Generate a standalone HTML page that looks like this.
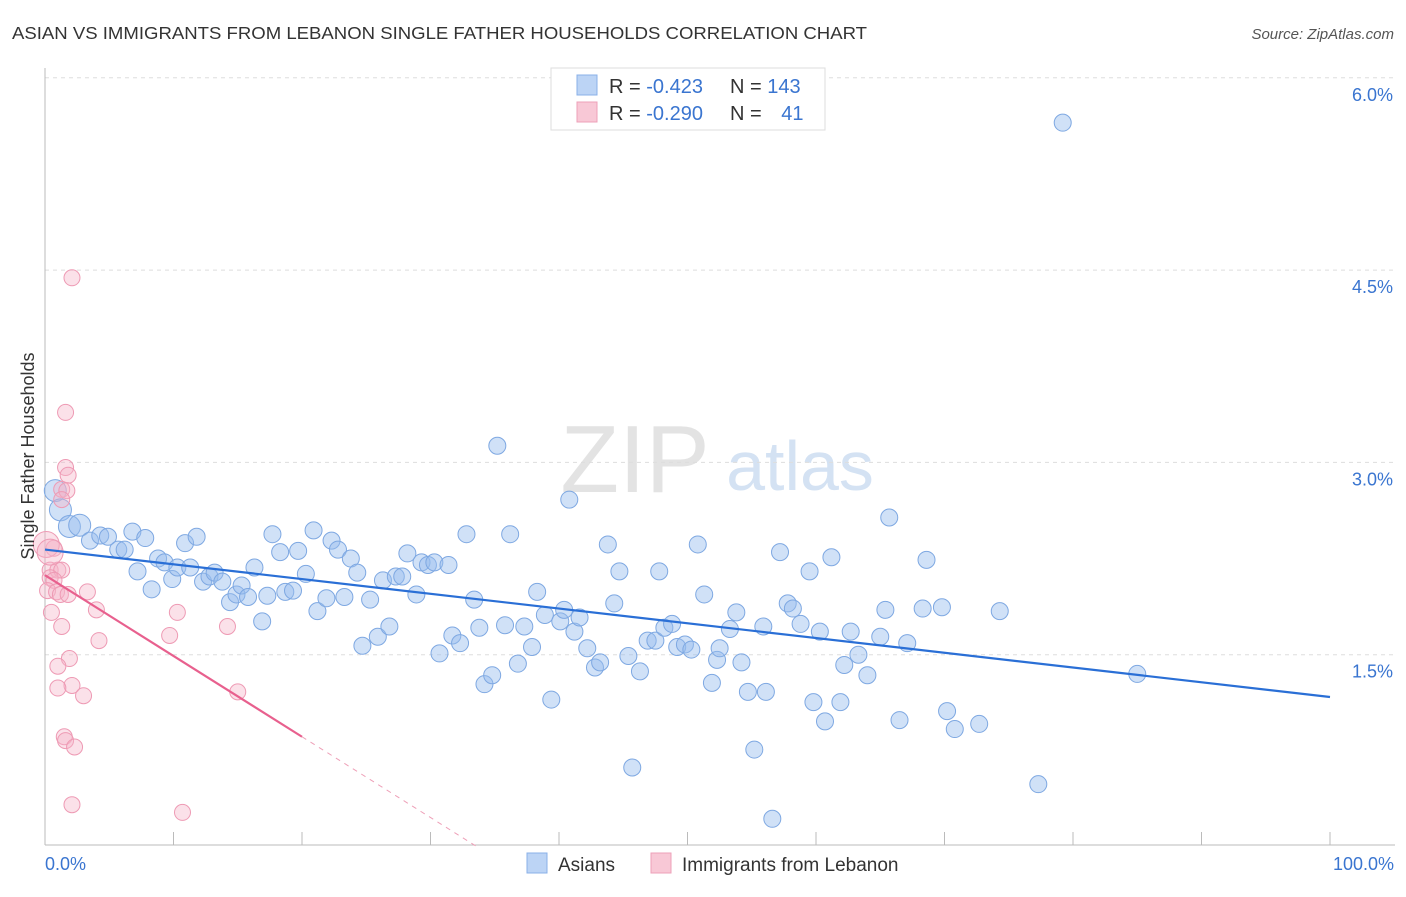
<!DOCTYPE html>
<html><head><meta charset="utf-8"><style>
body{margin:0;background:#fff;font-family:"Liberation Sans",sans-serif}
svg text{font-family:"Liberation Sans",sans-serif}
</style></head><body>
<svg id="chart" width="1406" height="892" xmlns="http://www.w3.org/2000/svg">
<text x="12" y="39" font-size="17.5" fill="#333" textLength="855" lengthAdjust="spacingAndGlyphs">ASIAN VS IMMIGRANTS FROM LEBANON SINGLE FATHER HOUSEHOLDS CORRELATION CHART</text>
<text x="1394" y="39" font-size="15" fill="#555" font-style="italic" text-anchor="end">Source: ZipAtlas.com</text>
<text x="635" y="492" font-size="96" fill="#e3e3e3" font-family="Liberation Serif" text-anchor="middle">ZIP</text>
<text x="800" y="490" font-size="70" fill="#d4e2f3" text-anchor="middle">atlas</text>
<g id="grid"></g><g id="axes"></g><g id="marks"></g>
<text transform="translate(34,456) rotate(-90)" font-size="18" fill="#333" text-anchor="middle">Single Father Households</text>
<text x="45" y="870" font-size="18" fill="#3a75d0">0.0%</text>
<text x="1394" y="870" font-size="18" fill="#3a75d0" text-anchor="end">100.0%</text>
<g>
<rect x="551" y="68" width="274" height="62" fill="#fff" stroke="#ddd"/>
<rect x="577" y="75" width="20" height="20" fill="#bcd4f5" stroke="#8ab0e8"/>
<rect x="577" y="102" width="20" height="20" fill="#f8c8d6" stroke="#eea0b8"/>
<text x="609" y="93" font-size="20" fill="#333">R = <tspan fill="#3a75d0">-0.423</tspan></text>
<text x="730" y="93" font-size="20" fill="#333">N = <tspan fill="#3a75d0">143</tspan></text>
<text x="609" y="120" font-size="20" fill="#333">R = <tspan fill="#3a75d0">-0.290</tspan></text>
<text x="730" y="120" font-size="20" fill="#333">N = <tspan fill="#3a75d0" dx="14">41</tspan></text>
</g>
<g>
<rect x="527" y="853" width="20" height="20" fill="#bcd4f5" stroke="#8ab0e8"/>
<text x="558" y="871" font-size="19" fill="#333">Asians</text>
<rect x="651" y="853" width="20" height="20" fill="#f8c8d6" stroke="#eea0b8"/>
<text x="682" y="871" font-size="19" fill="#333">Immigrants from Lebanon</text>
</g>
</svg>
<script>
const yTicks=[1.5,3.0,4.5,6.0];
const yTickLabels=["1.5%","3.0%","4.5%","6.0%"];
const xTicks=[0,10,20,30,40,50,60,70,80,90,100];
const asianX=[79.2,35.2,40.8,65.7,0.8,1.2,1.9,2.7,3.5,4.3,4.9,5.7,6.2,6.8,7.8,7.2,8.3,8.8,9.3,9.9,10.3,10.9,11.3,11.8,12.3,12.8,13.2,13.8,14.4,14.9,15.3,15.8,16.3,16.9,17.3,17.7,18.3,18.7,19.3,19.7,20.3,20.9,21.2,21.9,22.3,22.8,23.3,23.8,24.3,24.7,25.3,25.9,26.3,26.8,27.3,27.8,28.2,28.9,29.3,29.8,30.3,30.7,31.4,31.7,32.3,32.8,33.4,33.8,34.2,34.8,35.8,36.2,36.8,37.3,37.9,38.3,38.9,39.4,40.1,40.4,41.2,41.6,42.2,42.8,43.2,43.8,44.3,44.7,45.4,45.7,46.3,46.9,47.5,47.8,48.2,48.8,49.2,49.8,50.3,50.8,51.3,51.9,52.3,52.5,53.3,53.8,54.2,54.7,55.2,55.9,56.1,56.6,57.2,57.8,58.2,58.8,59.5,59.8,60.3,60.7,61.2,61.9,62.2,62.7,63.3,64.0,65.0,65.4,66.5,67.1,68.3,68.6,69.8,70.2,70.8,72.7,74.3,77.3,85.0];
const asianY=[5.65,3.13,2.71,2.57,2.78,2.63,2.50,2.51,2.39,2.43,2.42,2.32,2.32,2.46,2.41,2.15,2.01,2.25,2.22,2.09,2.18,2.37,2.18,2.42,2.07,2.11,2.14,2.07,1.91,1.97,2.04,1.95,2.18,1.76,1.96,2.44,2.30,1.99,2.00,2.31,2.13,2.47,1.84,1.94,2.39,2.32,1.95,2.25,2.14,1.57,1.93,1.64,2.08,1.72,2.11,2.11,2.29,1.97,2.22,2.20,2.22,1.51,2.20,1.65,1.59,2.44,1.93,1.71,1.27,1.34,1.73,2.44,1.43,1.72,1.56,1.99,1.81,1.15,1.76,1.85,1.68,1.79,1.55,1.40,1.44,2.36,1.90,2.15,1.49,0.62,1.37,1.61,1.61,2.15,1.71,1.74,1.56,1.58,1.54,2.36,1.97,1.28,1.46,1.55,1.70,1.83,1.44,1.21,0.76,1.72,1.21,0.22,2.30,1.90,1.86,1.74,2.15,1.13,1.68,0.98,2.26,1.13,1.42,1.68,1.50,1.34,1.64,1.85,0.99,1.59,1.86,2.24,1.87,1.06,0.92,0.96,1.84,0.49,1.35];
const lebX=[2.1,1.6,1.6,1.8,1.3,1.7,1.3,0.7,0.4,1.0,1.3,0.4,0.7,0.2,0.9,1.2,1.8,3.3,0.5,4.0,10.3,1.3,14.2,4.2,9.7,1.9,1.0,2.1,1.0,3.0,15.0,1.5,1.6,2.3,2.1,10.7,0.1,0.4];
const lebY=[4.44,3.39,2.96,2.90,2.79,2.78,2.71,2.33,2.16,2.16,2.16,2.10,2.08,2.00,1.99,1.97,1.97,1.99,1.83,1.85,1.83,1.72,1.72,1.61,1.65,1.47,1.41,1.26,1.24,1.18,1.21,0.86,0.83,0.78,0.33,0.27,2.36,2.30];
const asianTrend=[2.32,1.17];
const lebTrend=[2.12,0.86];
const X0=45,X1=1330,Y0=847,YPX=128.2;
const sx=v=>X0+(X1-X0)*v/100, sy=v=>Y0-v*YPX;
const NS="http://www.w3.org/2000/svg";
function mk(p,t,a){const e=document.createElementNS(NS,t);for(const k in a)e.setAttribute(k,a[k]);p.appendChild(e);return e;}
const grid=document.getElementById('grid'),axes=document.getElementById('axes'),marks=document.getElementById('marks');
yTicks.forEach((t,i)=>{
 const l=mk(grid,'line',{x1:45,x2:1395,y1:sy(t),y2:sy(t),stroke:'#ddd','stroke-dasharray':'4,4'});
 
 
 const tx=mk(grid,'text',{x:1393,y:sy(t)+23,'font-size':18,fill:'#3a75d0','text-anchor':'end'});
 tx.textContent=yTickLabels[i];
 
 
});
const ax=mk(axes,'line',{x1:45,x2:1395,y1:845,y2:845,stroke:'#bbb'});


const ay=mk(axes,'line',{x1:45,x2:45,y1:68,y2:845,stroke:'#bbb'});


xTicks.forEach(t=>{
 const l=mk(axes,'line',{x1:sx(t),x2:sx(t),y1:832,y2:845,stroke:'#bbb'});
 
 
});
asianX.forEach((x,i)=>{
 const big=x<3;
 const c=mk(marks,'circle',{cx:sx(x),cy:sy(asianY[i]),r:big?11:8.5,fill:'rgba(150,188,238,0.45)',stroke:'#7ea8e2','stroke-width':1});
 
 
});
lebX.forEach((x,i)=>{
 const c=mk(marks,'circle',{cx:sx(x),cy:sy(lebY[i]),r:i>=36?13:8,fill:'rgba(246,180,200,0.4)',stroke:'#ee9ab4','stroke-width':1});
 
 
});
const bt=mk(marks,'line',{x1:sx(0),y1:sy(asianTrend[0]),x2:sx(100),y2:sy(asianTrend[1]),stroke:'#2a6fd6','stroke-width':2.2});


const slope=(lebTrend[1]-lebTrend[0])/20;
const pt=mk(marks,'line',{x1:sx(0),y1:sy(lebTrend[0]),x2:sx(20),y2:sy(lebTrend[1]),stroke:'#e8608e','stroke-width':2.2});


const xz=-lebTrend[0]/slope;
const pd=mk(marks,'line',{x1:sx(20),y1:sy(lebTrend[1]),x2:sx(xz),y2:sy(0),stroke:'#eea0b8','stroke-width':1,'stroke-dasharray':'5,5'});


</script>
</body></html>
